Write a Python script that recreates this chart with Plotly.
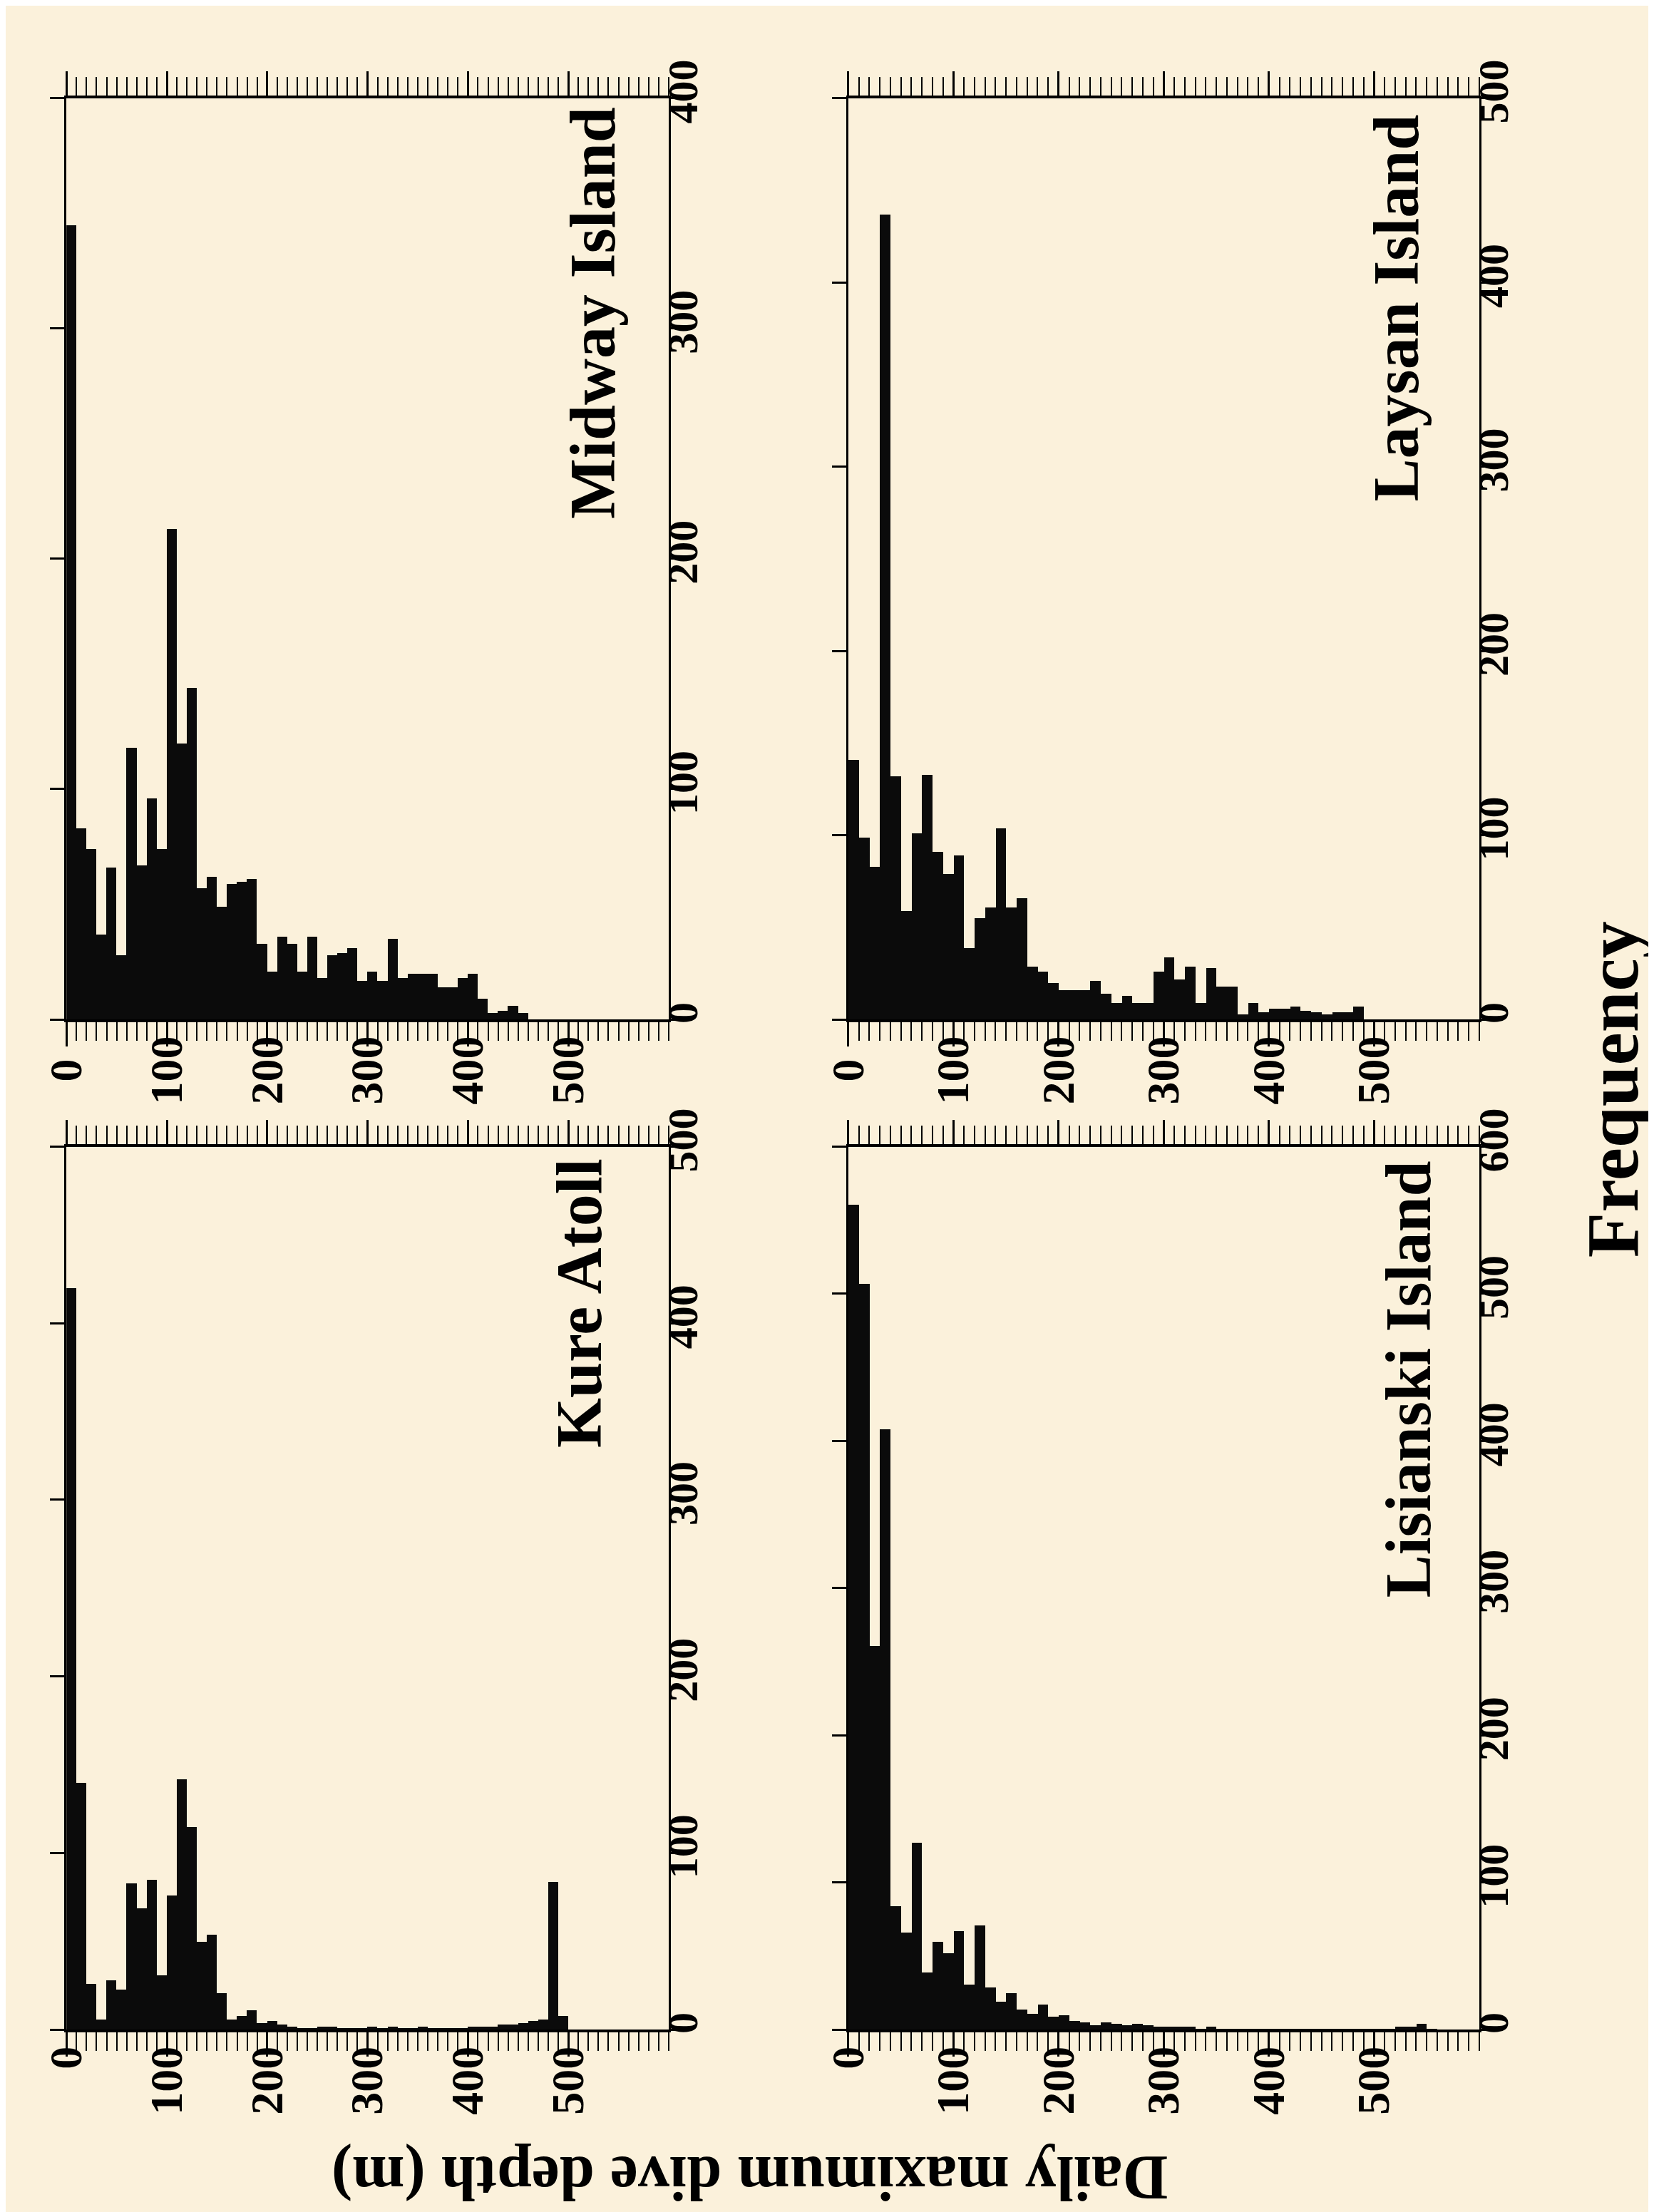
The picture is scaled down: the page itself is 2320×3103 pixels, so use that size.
import plotly.graph_objects as go

# ---------------- data (10 m depth bins, counts) ----------------
BIN_WIDTH = 10
midway = [345, 83, 74, 37, 66, 28, 118, 67, 96, 74, 213, 120, 144, 57, 62, 49, 59, 60, 61, 33,
          21, 36, 33, 21, 36, 18, 28, 29, 31, 17, 21, 17, 35, 18, 20, 20, 20, 14, 14, 18,
          20, 9, 3, 4, 6, 3]
laysan = [141, 99, 83, 437, 132, 59, 101, 133, 91, 79, 89, 39, 55, 61, 104, 61, 66, 29, 26, 20,
          16, 16, 16, 21, 14, 9, 13, 9, 9, 26, 34, 22, 29, 9, 28, 18, 18, 3, 9, 4,
          6, 6, 7, 5, 4, 3, 4, 4, 7]
kure = [420, 140, 26, 6, 28, 23, 83, 69, 85, 31, 76, 142, 115, 50, 54, 21, 6, 8, 11, 4,
        5, 3, 2, 1, 1, 2, 2, 1, 1, 1, 2, 1, 2, 1, 1, 2, 1, 1, 1, 1,
        2, 2, 2, 3, 3, 4, 5, 6, 84, 8]
lisianski = [561, 507, 261, 408, 84, 66, 127, 39, 60, 52, 67, 31, 71, 29, 19, 25, 14, 11, 17, 9,
             10, 6, 5, 3, 5, 4, 3, 4, 3, 2, 2, 2, 2, 1, 2, 1, 1, 1, 1, 1,
             1, 1, 1, 1, 1, 1, 1, 1, 1, 1, 1, 1, 2, 2, 4, 1]

panel_names = ["Midway Island", "Laysan Island", "Kure Atoll", "Lisianski Island"]
panel_data = [midway, laysan, kure, lisianski]
freq_max = [400, 500, 500, 600]

depth_tickvals = [0, 100, 200, 300, 400, 500]
depth_ticktext_top = ["0\u2007", "100", "200", "300", "400", "500"]
depth_ticktext_bottom = ["0", "100", "200", "300", "400", "500"]
depth_range = [0, 600]
freq_dtick = 100

x_title = "Daily maximum dive depth (m)"
y_title = "Frequency"

# ---------------- layout geometry ----------------
W, H = 2320, 3103
BG = "#fbf1db"
FONT = "Liberation Serif"

def px_x(p):
    return p / W

def px_y(p):
    return 1 - p / H

col_dom = [[px_x(50), px_x(908)], [px_x(1164), px_x(2063)]]
row_dom = [[px_y(1395), px_y(77)], [px_y(2840), px_y(1577)]]
positions = [(0, 0), (0, 1), (1, 0), (1, 1)]  # (row, col)
title_pos = [(800, 88), (1945, 98), (780, 1592), (1962, 1595)]

fig = go.Figure()
layout = dict(
    width=W, height=H, autosize=False,
    margin=dict(l=0, r=0, t=0, b=0),
    paper_bgcolor=BG, plot_bgcolor=BG,
    showlegend=False, bargap=0,
    font=dict(family=FONT, color="black"),
    annotations=[],
)

for i, (name, vals, fmax, (r, c)) in enumerate(zip(panel_names, panel_data, freq_max, positions)):
    k = "" if i == 0 else str(i + 1)
    xs = [j * BIN_WIDTH for j in range(len(vals))]
    fig.add_trace(go.Bar(
        x=xs, y=vals, width=BIN_WIDTH, offset=0,
        marker=dict(color="#0b0b0b", line=dict(width=0)),
        xaxis="x" + k, yaxis="y" + k, hoverinfo="x+y",
    ))
    layout["xaxis" + k] = dict(
        domain=col_dom[c], anchor="y" + k, range=depth_range,
        showgrid=False, zeroline=False,
        showline=True, linecolor="black", linewidth=4, mirror="ticks",
        ticks="outside", ticklen=34, tickwidth=3, tickcolor="black",
        tickmode="array", tickvals=depth_tickvals,
        ticktext=depth_ticktext_top if r == 0 else depth_ticktext_bottom,
        tickangle=-90, ticklabelstandoff=-40,
        tickfont=dict(family=FONT, size=64, color="black", weight="bold"),
        minor=dict(tickmode="linear", tick0=0, dtick=10, ticks="outside",
                   ticklen=26, tickwidth=2, tickcolor="black", showgrid=False),
    )
    layout["yaxis" + k] = dict(
        domain=row_dom[r], anchor="x" + k, side="right", range=[0, fmax],
        showgrid=False, zeroline=False,
        showline=True, linecolor="black", linewidth=3, mirror="ticks",
        ticks="outside", ticklen=20, tickwidth=3, tickcolor="black",
        tickmode="linear", tick0=0, dtick=freq_dtick,
        tickangle=-90, ticklabelstandoff=-55,
        tickfont=dict(family=FONT, size=60, color="black", weight="bold"),
    )
    tx, ty = title_pos[i]
    layout["annotations"].append(dict(
        text="<b>%s</b>" % name, xref="paper", yref="paper",
        x=px_x(tx), y=px_y(ty), xanchor="center", yanchor="top",
        textangle=-90, showarrow=False,
        font=dict(family=FONT, size=90, color="black"),
    ))

layout["annotations"].append(dict(
    text="<b>%s</b>" % y_title, xref="paper", yref="paper",
    x=px_x(2252), y=px_y(1495), xanchor="center", yanchor="middle",
    textangle=-90, showarrow=False, borderpad=0,
    font=dict(family=FONT, size=104, color="black"),
))
layout["annotations"].append(dict(
    text="<b>%s</b>" % x_title, xref="paper", yref="paper",
    x=px_x(1024), y=px_y(3052), xanchor="center", yanchor="middle",
    textangle=180, showarrow=False,
    font=dict(family=FONT, size=88, color="black"),
))

fig.update_layout(**layout)
fig.write_html("out.html")
